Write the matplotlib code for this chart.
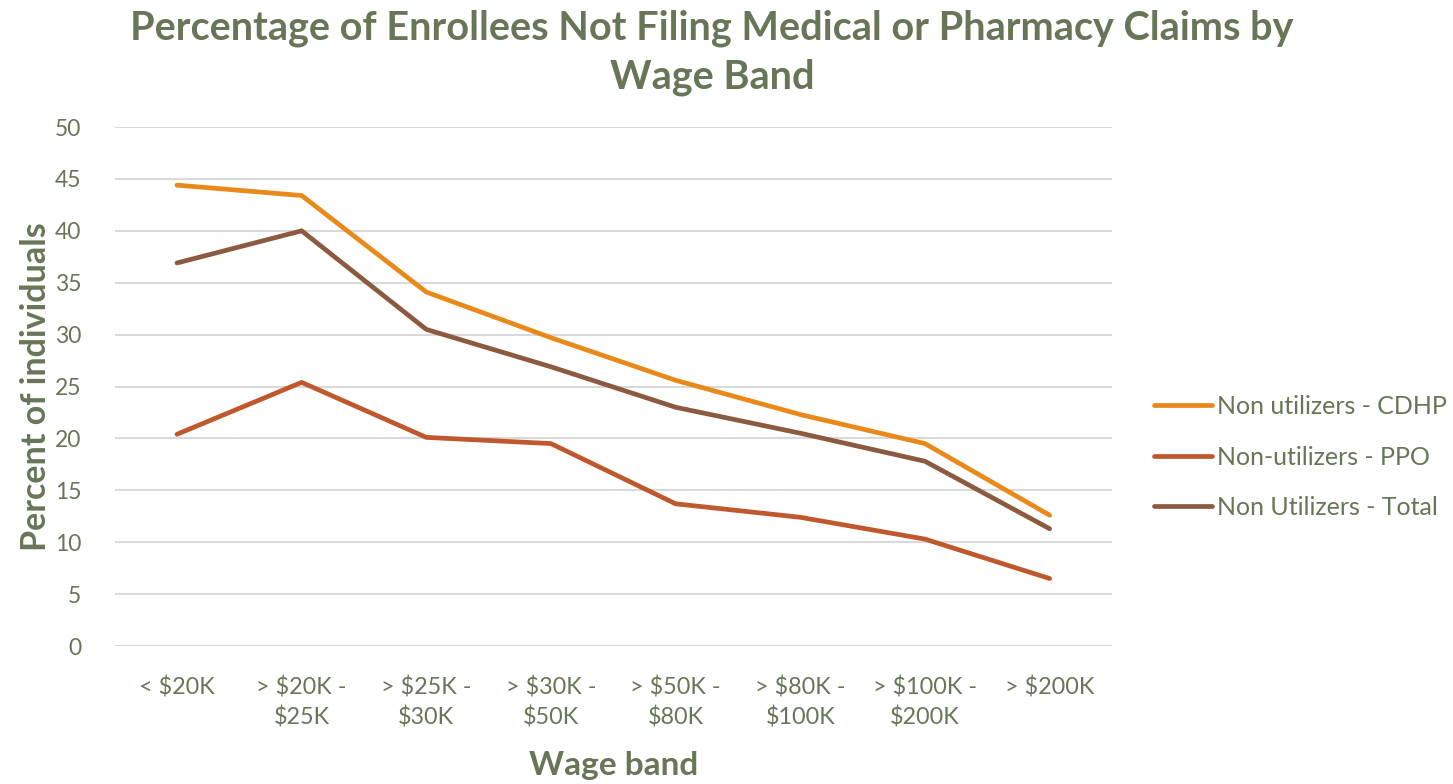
import matplotlib.pyplot as plt
from matplotlib.lines import Line2D

# wage bands and percentages of enrollees without claims
wage_bands = ["< $20K", "> $20K -\n$25K", "> $25K -\n$30K", "> $30K -\n$50K",
              "> $50K -\n$80K", "> $80K -\n$100K", "> $100K -\n$200K", "> $200K"]
cdhp = [44.4, 43.4, 34.1, 29.7, 25.6, 22.3, 19.5, 12.6]
ppo = [20.4, 25.4, 20.1, 19.5, 13.7, 12.4, 10.3, 6.5]
total = [36.9, 40.0, 30.5, 26.9, 23.0, 20.5, 17.8, 11.3]

series_names = ["Non utilizers - CDHP", "Non-utilizers - PPO", "Non Utilizers - Total"]
colors = ["#E8891A", "#C0582D", "#8B5A3F"]
text_color = "#667656"

plt.rcParams['font.family'] = ['Lato', 'DejaVu Sans']

fig = plt.figure(figsize=(14.53, 7.84), dpi=100)
ax = fig.add_axes([0.0789, 0.176, 0.6864, 0.662])

x = range(len(wage_bands))
for vals, c in zip([cdhp, ppo, total], colors):
    ax.plot(x, vals, color=c, linewidth=3.4, solid_capstyle='round',
            solid_joinstyle='round', zorder=3)

ax.set_xlim(-0.5, len(wage_bands) - 0.5)
ax.set_ylim(0, 50)
ax.set_yticks(range(0, 51, 5))
ax.set_xticks(list(x))
ax.set_xticklabels(wage_bands, fontsize=16.8, color=text_color, linespacing=1.45)
ax.tick_params(axis='y', labelsize=16.5, labelcolor=text_color, length=0, pad=24)
ax.tick_params(axis='x', length=0, pad=22)
ax.grid(axis='y', color='#D9D9D9', linewidth=1.5)
ax.set_axisbelow(True)
for s in ax.spines.values():
    s.set_visible(False)

ax.set_ylabel("Percent of individuals", fontsize=24.5, fontweight='bold',
              color=text_color, labelpad=2)
ax.set_xlabel("Wage band", fontsize=24, fontweight='bold', color=text_color,
              labelpad=16)

fig.text(0.490, 0.988, "Percentage of Enrollees Not Filing Medical or Pharmacy Claims by\nWage Band",
         ha='center', va='top', fontsize=28.5, fontweight='bold', color=text_color,
         linespacing=1.38)

handles = [Line2D([], [], color=c, linewidth=3.4, solid_capstyle='round') for c in colors]
leg = fig.legend(handles, series_names, loc='center left',
                 bbox_to_anchor=(0.779, 0.417), frameon=False, fontsize=18,
                 handlelength=2.3, handletextpad=0.2, labelspacing=1.1)
for t in leg.get_texts():
    t.set_color(text_color)

fig.savefig("out.png", dpi=100)
